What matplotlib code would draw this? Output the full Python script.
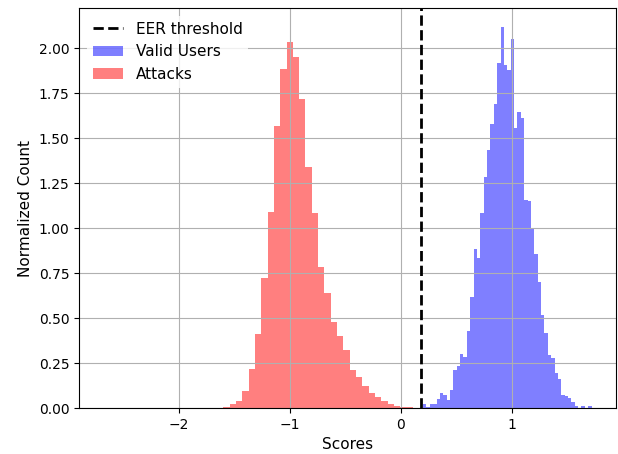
import matplotlib
matplotlib.use("Agg")
import matplotlib.pyplot as plt
import numpy as np

# score histograms (density-normalised, 50 bins each)
attack_range = (-2.68, 0.165)
attack_heights = [
    0.001, 0.0, 0.0, 0.0, 0.0, 0.0, 0.0, 0.0, 0.0, 0.0,
    0.0, 0.001, 0.0, 0.0, 0.0, 0.001, 0.0, 0.001, 0.002, 0.007,
    0.020, 0.037, 0.096, 0.217, 0.411, 0.722, 1.093, 1.570, 1.883, 2.037,
    1.950, 1.717, 1.343, 1.083, 0.783, 0.639, 0.476, 0.398, 0.320, 0.213,
    0.174, 0.122, 0.085, 0.059, 0.037, 0.022, 0.013, 0.007, 0.004, 0.002,
]

valid_range = (0.200, 1.719)
valid_heights = [
    0.022, 0.007, 0.022, 0.022, 0.048, 0.081, 0.072, 0.044, 0.100, 0.211,
    0.233, 0.300, 0.281, 0.430, 0.619, 0.887, 0.837, 1.085, 1.285, 1.433,
    1.578, 1.693, 1.919, 2.119, 1.906, 1.881, 2.054, 1.559, 1.646, 1.615,
    1.156, 1.152, 0.998, 0.859, 0.702, 0.517, 0.415, 0.294, 0.276, 0.193,
    0.159, 0.072, 0.067, 0.054, 0.035, 0.013, 0.0, 0.011, 0.0, 0.011,
]

eer_threshold = 0.18

fig = plt.figure(figsize=(6.18, 4.54), dpi=100)
ax = fig.add_axes([0.1278, 0.1013, 0.8690, 0.8811])

valid_edges = np.linspace(valid_range[0], valid_range[1], len(valid_heights) + 1)
attack_edges = np.linspace(attack_range[0], attack_range[1], len(attack_heights) + 1)

ax.hist(valid_edges[:-1], bins=valid_edges, weights=valid_heights,
        color="blue", alpha=0.5, label="Valid Users")
ax.hist(attack_edges[:-1], bins=attack_edges, weights=attack_heights,
        color="red", alpha=0.5, label="Attacks")
ax.axvline(eer_threshold, color="black", linestyle="--", lw=2, label="EER threshold")

ax.set_xlabel("Scores", fontsize=11)
ax.set_ylabel("Normalized Count", fontsize=11)
ax.grid(True)

# threshold entry first, as in the original
handles, labels = ax.get_legend_handles_labels()
order = [labels.index("EER threshold"), labels.index("Valid Users"), labels.index("Attacks")]
leg = ax.legend([handles[i] for i in order], [labels[i] for i in order],
                loc="upper left", fontsize=11)
leg.get_frame().set_edgecolor("none")

fig.savefig("out.png", dpi=100)
